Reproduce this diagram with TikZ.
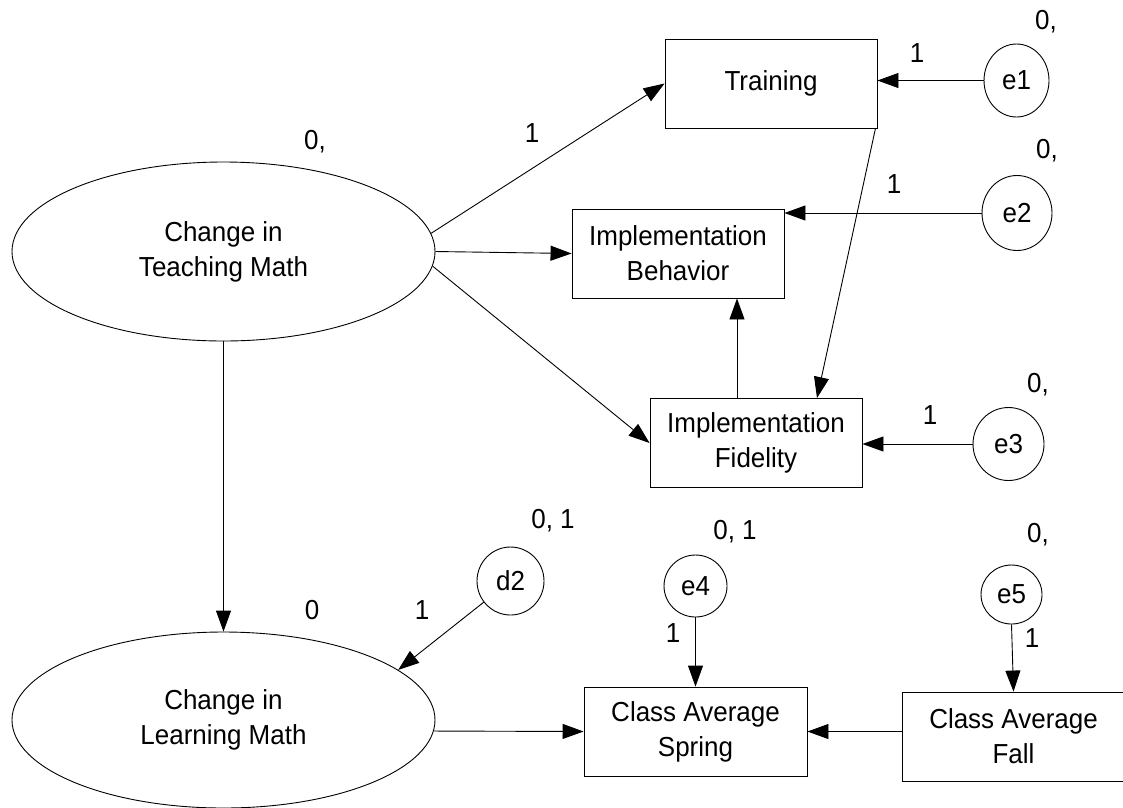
\documentclass[tikz,border=0pt]{standalone}
\usepackage{fontspec}
\setmainfont{Liberation Sans}[FakeStretch=0.945]
\usepackage{tikz}
\usetikzlibrary{shapes.geometric, arrows.meta}

\begin{document}
\begin{tikzpicture}[x=1pt, y=-1pt,
    font=\fontsize{27.5}{35}\selectfont,
    latent/.style={draw, ellipse, line width=0.9pt, inner sep=0pt,
                   minimum width=423pt, minimum height=179pt, align=center},
    observed/.style={draw, rectangle, line width=0.9pt, inner sep=0pt,
                     minimum width=212pt, minimum height=89pt, align=center},
    errvar/.style={draw, ellipse, line width=0.9pt, inner sep=0pt,
                   minimum width=66pt, minimum height=72pt},
    regpath/.style={draw, line width=0.9pt, -{Triangle[length=21pt, width=15pt]}}]
    \useasboundingbox (0,0) rectangle (1123,807);

    \node[latent] (ctm) at (223.5,251.5) {Change in\\Teaching Math};
    \node[latent, minimum height=176pt] (clm) at (223.5,720) {Change in\\Learning Math};

    \node[observed] (train) at (771,83.5) {Training};
    \node[observed] (ib) at (678,253.5) {Implementation\\Behavior};
    \node[observed] (fid) at (756,443) {Implementation\\Fidelity};
    \node[observed, minimum width=223pt] (spring) at (695.5,731.5) {Class Average\\Spring};
    \node[observed, minimum width=223pt] (fall) at (1013.5,736.5) {Class Average\\Fall};

    \node[errvar, minimum width=65pt, minimum height=73pt] (e1) at (1016.5,80.5) {e1};
    \node[errvar, minimum width=70pt, minimum height=75pt] (e2) at (1017,213) {e2};
    \node[errvar, minimum width=71pt, minimum height=73pt] (e3) at (1008.5,444) {e3};
    \node[errvar, minimum width=67pt, minimum height=68pt] (d2) at (510.5,581) {d2};
    \node[errvar, minimum width=63pt, minimum height=62pt] (e4) at (695.5,586) {e4};
    \node[errvar, minimum width=61pt, minimum height=59pt] (e5) at (1011.5,594.5) {e5};

    \node (ctmvar) at (315,142) {0,};
    \node (trainw) at (532,133) {1};
    \node (e1var) at (1046,22) {0,};
    \node (e1w) at (917,53) {1};
    \node (e2var) at (1047,151) {0,};
    \node (e2w) at (894,184) {1};
    \node (e3var) at (1038,385) {0,};
    \node (e3w) at (930,415) {1};
    \node (clmvar) at (312,610) {0};
    \node (d2w) at (422,610) {1};
    \node (d2var) at (553,521) {0, 1};
    \node (e4var) at (735,532) {0, 1};
    \node (e4w) at (673,633) {1};
    \node (e5var) at (1038,535) {0,};
    \node (e5w) at (1032,638) {1};

    \draw[regpath] (ctm.5) -- (train.west);
    \draw[regpath] (ctm.east) -- (ib.west);
    \draw[regpath] (ctm.-4) -- (fid.west);
    \draw[regpath] (ctm.south) -- (clm.north);
    \draw[regpath] ([xshift=-2pt]train.south east) -- ([xshift=61pt]fid.north);
    \draw[regpath] ([xshift=-19pt]fid.north) -- ([xshift=59pt]ib.south);
    \draw[regpath] (e1.west) -- (train.east |- e1.west);
    \draw[regpath] (e2.west) -- (ib.east |- e2.west);
    \draw[regpath] (e3.west) -- (fid.east |- e3.west);
    \draw[regpath] (d2) -- (clm.16);
    \draw[regpath] (clm.-3) -- (spring.west);
    \draw[regpath] (e4.south) -- (spring.north);
    \draw[regpath] (e5.south) -- (fall.north);
    \draw[regpath] (fall.west |- spring.east) -- (spring.east);
\end{tikzpicture}
\end{document}
